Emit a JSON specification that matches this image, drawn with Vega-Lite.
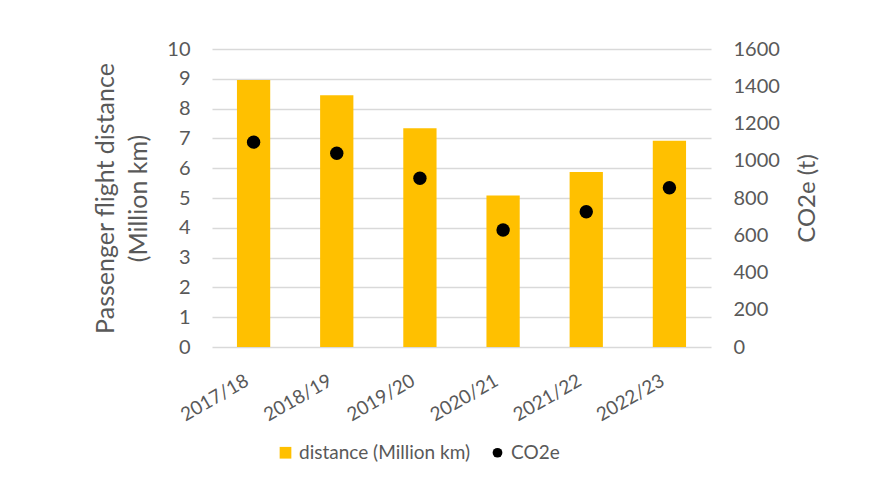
{
  "$schema": "https://vega.github.io/schema/vega-lite/v6.json",
  "width": 499,
  "height": 298,
  "autosize": {"type": "none"},
  "padding": {"left": 212, "top": 49, "right": 181, "bottom": 137},
  "background": "white",
  "config": {
    "font": "Lato",
    "view": {"stroke": null},
    "axis": {
      "labelFont": "Lato",
      "titleFont": "Lato",
      "labelColor": "#595959",
      "titleColor": "#595959",
      "titleFontWeight": "normal"
    }
  },
  "data": {
    "values": [
      {"year": "2017/18", "distance": 8.96, "co2e": 1100},
      {"year": "2018/19", "distance": 8.45, "co2e": 1040},
      {"year": "2019/20", "distance": 7.34, "co2e": 906},
      {"year": "2020/21", "distance": 5.08, "co2e": 628},
      {"year": "2021/22", "distance": 5.87, "co2e": 726},
      {"year": "2022/23", "distance": 6.92, "co2e": 855}
    ]
  },
  "encoding": {
    "x": {
      "field": "year",
      "type": "nominal",
      "sort": null,
      "scale": {"paddingInner": 0.6, "paddingOuter": 0.3},
      "axis": {
        "title": null,
        "domain": false,
        "ticks": false,
        "labelAngle": -30,
        "labelFontSize": 19,
        "labelPadding": 24,
        "labelOffset": -11
      }
    }
  },
  "layer": [
    {
      "mark": {"type": "bar", "color": "#FFC000"},
      "encoding": {
        "y": {
          "field": "distance",
          "type": "quantitative",
          "scale": {"domain": [0, 10], "nice": false},
          "axis": {
            "orient": "left",
            "values": [0, 1, 2, 3, 4, 5, 6, 7, 8, 9, 10],
            "title": ["Passenger flight distance", "(Million km)"],
            "titleFontSize": 25,
            "titleLineHeight": 33,
            "titlePadding": 15,
            "labelFontSize": 20,
            "labelPadding": 22,
            "tickSize": 0,
            "ticks": false,
            "domain": false,
            "grid": true,
            "gridColor": "#d9d9d9",
            "gridWidth": 1.4
          }
        },
        "color": {
          "datum": "distance (Million km)",
          "type": "nominal",
          "scale": {"domain": ["distance (Million km)", "CO2e"], "range": ["#FFC000", "#000000"]},
          "legend": {
            "title": null,
            "orient": "none",
            "direction": "horizontal",
            "legendX": 64,
            "legendY": 394,
            "padding": 0,
            "labelFont": "Lato",
            "labelFontSize": 19,
            "labelColor": "#595959",
            "labelLimit": 0,
            "symbolSize": 137,
            "symbolStrokeWidth": 0,
            "labelOffset": 4,
            "columnPadding": 17,
            "encode": {
              "symbols": {
                "update": {
                  "shape": {"signal": "datum.value === 'CO2e' ? 'circle' : 'square'"},
                  "size": {"signal": "datum.value === 'CO2e' ? 95 : 137"}
                }
              }
            }
          }
        }
      }
    },
    {
      "mark": {"type": "point", "filled": true, "size": 180, "opacity": 1},
      "encoding": {
        "y": {
          "field": "co2e",
          "type": "quantitative",
          "scale": {"domain": [0, 1600], "nice": false},
          "axis": {
            "orient": "right",
            "values": [0, 200, 400, 600, 800, 1000, 1200, 1400, 1600],
            "format": "d",
            "title": "CO2e (t)",
            "titleFontSize": 24,
            "titleAngle": -90,
            "titleBaseline": "top",
            "titlePadding": 16,
            "labelFontSize": 20,
            "labelPadding": 22,
            "tickSize": 0,
            "ticks": false,
            "domain": false,
            "grid": false
          }
        },
        "color": {"datum": "CO2e", "type": "nominal"}
      }
    }
  ],
  "resolve": {"scale": {"y": "independent"}}
}
